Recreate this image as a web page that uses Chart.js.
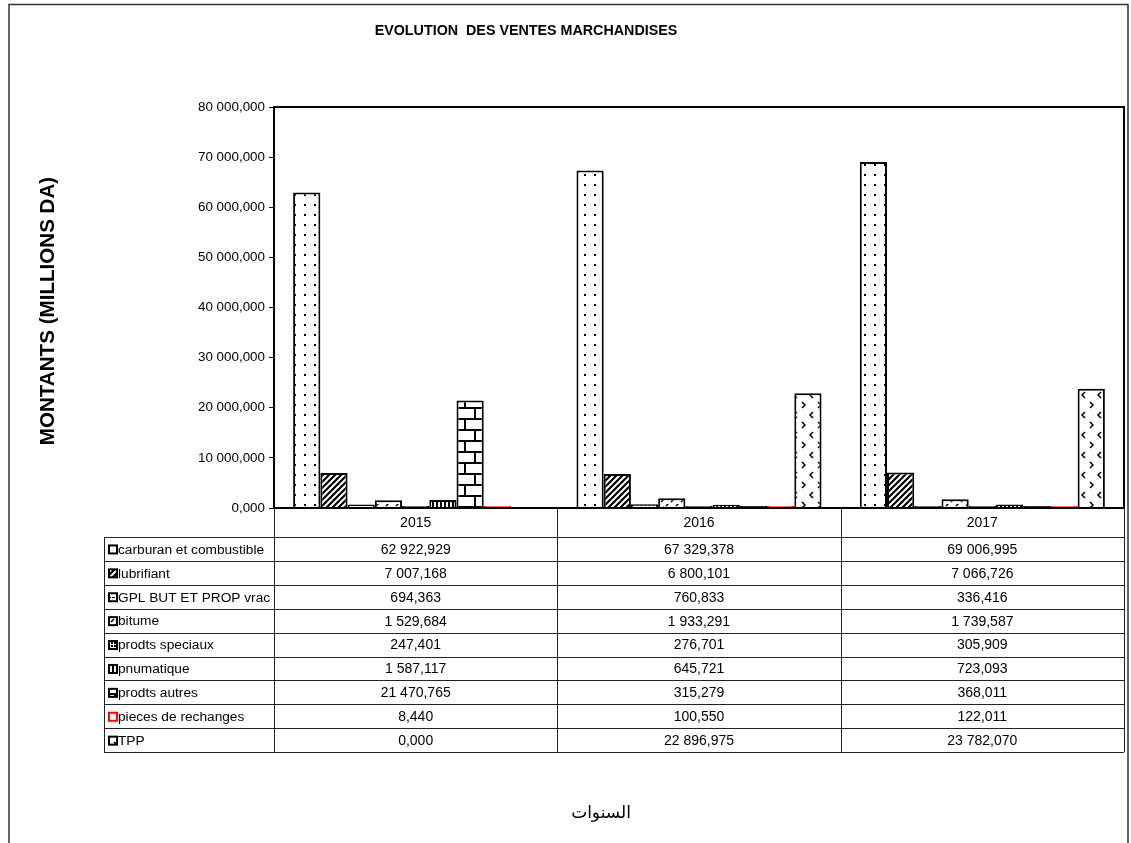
<!DOCTYPE html>
<html>
<head>
<meta charset="utf-8">
<script src="https://cdn.jsdelivr.net/npm/chart.js@4.4.1/dist/chart.umd.min.js"></script>
<style>
  body { margin: 0; background: #fff; }
  #wrap { width: 1131px; height: 843px; }
</style>
</head>
<body>
<div id="wrap"><canvas id="chart" width="1131" height="843"></canvas></div>
<script>
const years = ['2015', '2016', '2017'];
const seriesNames = ['carburan et combustible', 'lubrifiant', 'GPL BUT ET PROP vrac', 'bitume',
  'prodts speciaux', 'pnumatique', 'prodts autres', 'pieces de rechanges', 'TPP'];

// montants par produit, un chiffre par année
const carburan = [62922.929, 67329.378, 69006.995];
const lubrifiant = [7007.168, 6800.101, 7066.726];
const gplVrac = [694.363, 760.833, 336.416];
const bitume = [1529.684, 1933.291, 1739.587];
const speciaux = [247.401, 276.701, 305.909];
const pneumatique = [1587.117, 645.721, 723.093];
const autres = [21470.765, 315.279, 368.011];
const pieces = [8.440, 100.550, 122.011];
const tpp = [0.000, 22896.975, 23782.070];

const yTicks = [0, 10000, 20000, 30000, 40000, 50000, 60000, 70000, 80000];

const allValues = [carburan, lubrifiant, gplVrac, bitume, speciaux, pneumatique, autres, pieces, tpp];

// format 62 922,929
function fmt(v) {
  const parts = v.toFixed(3).split('.');
  return parts[0].replace(/\B(?=(\d{3})+(?!\d))/g, ' ') + ',' + parts[1];
}

// motifs de remplissage des barres
function makePattern(w, h, draw) {
  const c = document.createElement('canvas');
  c.width = w; c.height = h;
  const g = c.getContext('2d');
  g.fillStyle = '#fff';
  g.fillRect(0, 0, w, h);
  g.fillStyle = '#000';
  g.strokeStyle = '#000';
  draw(g);
  return g.createPattern(c, 'repeat');
}

const patDots = makePattern(10, 10, g => {
  g.fillRect(4, 4, 2, 2);
});
const patHatch = makePattern(6, 6, g => {
  g.lineWidth = 2.2;
  g.beginPath();
  g.moveTo(-1, 7); g.lineTo(7, -1);
  g.moveTo(-4, 4); g.lineTo(4, -4);
  g.moveTo(2, 10); g.lineTo(10, 2);
  g.stroke();
});
const patGpl = makePattern(4, 4, g => {
  g.fillRect(0, 1, 3, 1);
});
const patDash = makePattern(10, 8, g => {
  g.lineWidth = 1.5;
  g.beginPath();
  g.moveTo(1, 6); g.lineTo(4, 3);
  g.moveTo(6, 2); g.lineTo(9, -1);
  g.stroke();
});
const patSpec = makePattern(3, 3, g => {
  g.fillRect(0, 0, 2, 2);
});
const patVert = makePattern(4, 4, g => {
  g.fillRect(0, 0, 2, 4);
});
const patBrick = makePattern(20, 22, g => {
  g.fillRect(0, 0, 20, 2);
  g.fillRect(0, 11, 20, 2);
  g.fillRect(4, 0, 2, 11);
  g.fillRect(14, 11, 2, 11);
});
const patChevron = makePattern(16, 20, g => {
  g.lineWidth = 1.5;
  g.beginPath();
  g.moveTo(2, 2); g.lineTo(5, 5); g.lineTo(2, 8);
  g.moveTo(13, 12); g.lineTo(10, 15); g.lineTo(13, 18);
  g.stroke();
});

const fills = [patDots, patHatch, patGpl, patDash, patSpec, patVert, patBrick, '#fff', patChevron];
const borders = ['#000', '#000', '#000', '#000', '#000', '#000', '#000', '#ff0000', '#000'];

const datasets = seriesNames.map((name, i) => ({
  label: name,
  data: allValues[i],
  backgroundColor: fills[i],
  borderColor: borders[i],
  borderWidth: 2,
  minBarLength: name === 'TPP' ? 0 : 2,
  categoryPercentage: 0.865,
  barPercentage: 1.0
}));

const tableTop = 508;
const headerH = 29;
const rowH = 23.9;
const labelLeft = 104;

// cadre, titres et tableau de données sous le graphique
const extras = {
  id: 'extras',
  afterDraw(chart) {
    const ctx = chart.ctx;
    const area = chart.chartArea;
    const x = chart.scales.x;
    ctx.save();

    // cadre extérieur
    ctx.strokeStyle = '#333';
    ctx.lineWidth = 1.5;
    ctx.beginPath();
    ctx.moveTo(9, 843); ctx.lineTo(9, 4.5); ctx.lineTo(1128, 4.5); ctx.lineTo(1128, 843);
    ctx.stroke();

    // contour de la zone de traçage
    ctx.strokeStyle = '#000';
    ctx.lineWidth = 2;
    ctx.strokeRect(area.left, area.top, area.right - area.left, area.bottom - area.top);

    ctx.fillStyle = '#000';
    ctx.textAlign = 'center';
    ctx.textBaseline = 'middle';
    ctx.font = 'bold 14.3px "Liberation Sans", Arial, sans-serif';
    ctx.fillText('EVOLUTION  DES VENTES MARCHANDISES', 526, 31);

    ctx.save();
    ctx.translate(48, 311);
    ctx.rotate(-Math.PI / 2);
    ctx.font = 'bold 20.6px "Liberation Sans", Arial, sans-serif';
    ctx.fillText('MONTANTS (MILLIONS DA)', 0, 0);
    ctx.restore();

    // tableau
    const colW = (area.right - area.left) / years.length;
    const bodyTop = tableTop + headerH;
    const bottom = bodyTop + rowH * seriesNames.length;
    ctx.strokeStyle = '#222';
    ctx.lineWidth = 1;
    ctx.beginPath();
    for (let i = 0; i <= years.length; i++) {
      const cx = Math.round(area.left + i * colW) + 0.5;
      ctx.moveTo(cx, tableTop); ctx.lineTo(cx, bottom);
    }
    ctx.moveTo(labelLeft + 0.5, bodyTop); ctx.lineTo(labelLeft + 0.5, bottom);
    for (let r = 0; r <= seriesNames.length; r++) {
      const ry = Math.round(bodyTop + r * rowH) + 0.5;
      ctx.moveTo(labelLeft, ry); ctx.lineTo(area.right, ry);
    }
    ctx.stroke();

    ctx.font = '14px "Liberation Sans", Arial, sans-serif';
    years.forEach((yr, i) => {
      ctx.fillText(yr, x.getPixelForValue(i), tableTop + headerH / 2 + 1);
    });
    seriesNames.forEach((name, r) => {
      const cy = bodyTop + r * rowH + rowH / 2 + 1;
      // clé de légende
      ctx.fillStyle = fills[r];
      ctx.fillRect(109, cy - 4.5, 8, 8);
      ctx.strokeStyle = borders[r];
      ctx.lineWidth = 2;
      ctx.strokeRect(109, cy - 4.5, 8, 8);
      ctx.fillStyle = '#000';
      ctx.textAlign = 'left';
      ctx.font = '13.7px "Liberation Sans", Arial, sans-serif';
      ctx.fillText(name, 118, cy);
      ctx.textAlign = 'center';
      ctx.font = '14px "Liberation Sans", Arial, sans-serif';
      allValues[r].forEach((v, i) => {
        ctx.fillText(fmt(v), x.getPixelForValue(i), cy);
      });
    });

    ctx.font = '17px "DejaVu Sans", sans-serif';
    ctx.fillText('السنوات', 601, 814);
    ctx.restore();
  }
};

Chart.defaults.font.family = '"Liberation Sans", Arial, sans-serif';
Chart.defaults.color = '#000';

new Chart(document.getElementById('chart'), {
  type: 'bar',
  data: { labels: years, datasets: datasets },
  options: {
    responsive: false,
    animation: false,
    layout: { padding: { top: 107, right: 7, bottom: 335, left: 0 } },
    plugins: {
      legend: { display: false },
      tooltip: { enabled: false }
    },
    scales: {
      x: { display: false },
      y: {
        min: 0,
        max: 80000,
        afterFit(scale) { scale.width = 274; },
        afterBuildTicks(scale) { scale.ticks = yTicks.map(v => ({ value: v })); },
        ticks: {
          font: { size: 13.4 },
          padding: 4,
          callback: v => fmt(v)
        },
        grid: { drawOnChartArea: false, drawTicks: true, tickLength: 5, color: '#000' },
        border: { display: true, color: '#000', width: 2 }
      }
    }
  },
  plugins: [extras]
});
</script>
</body>
</html>
